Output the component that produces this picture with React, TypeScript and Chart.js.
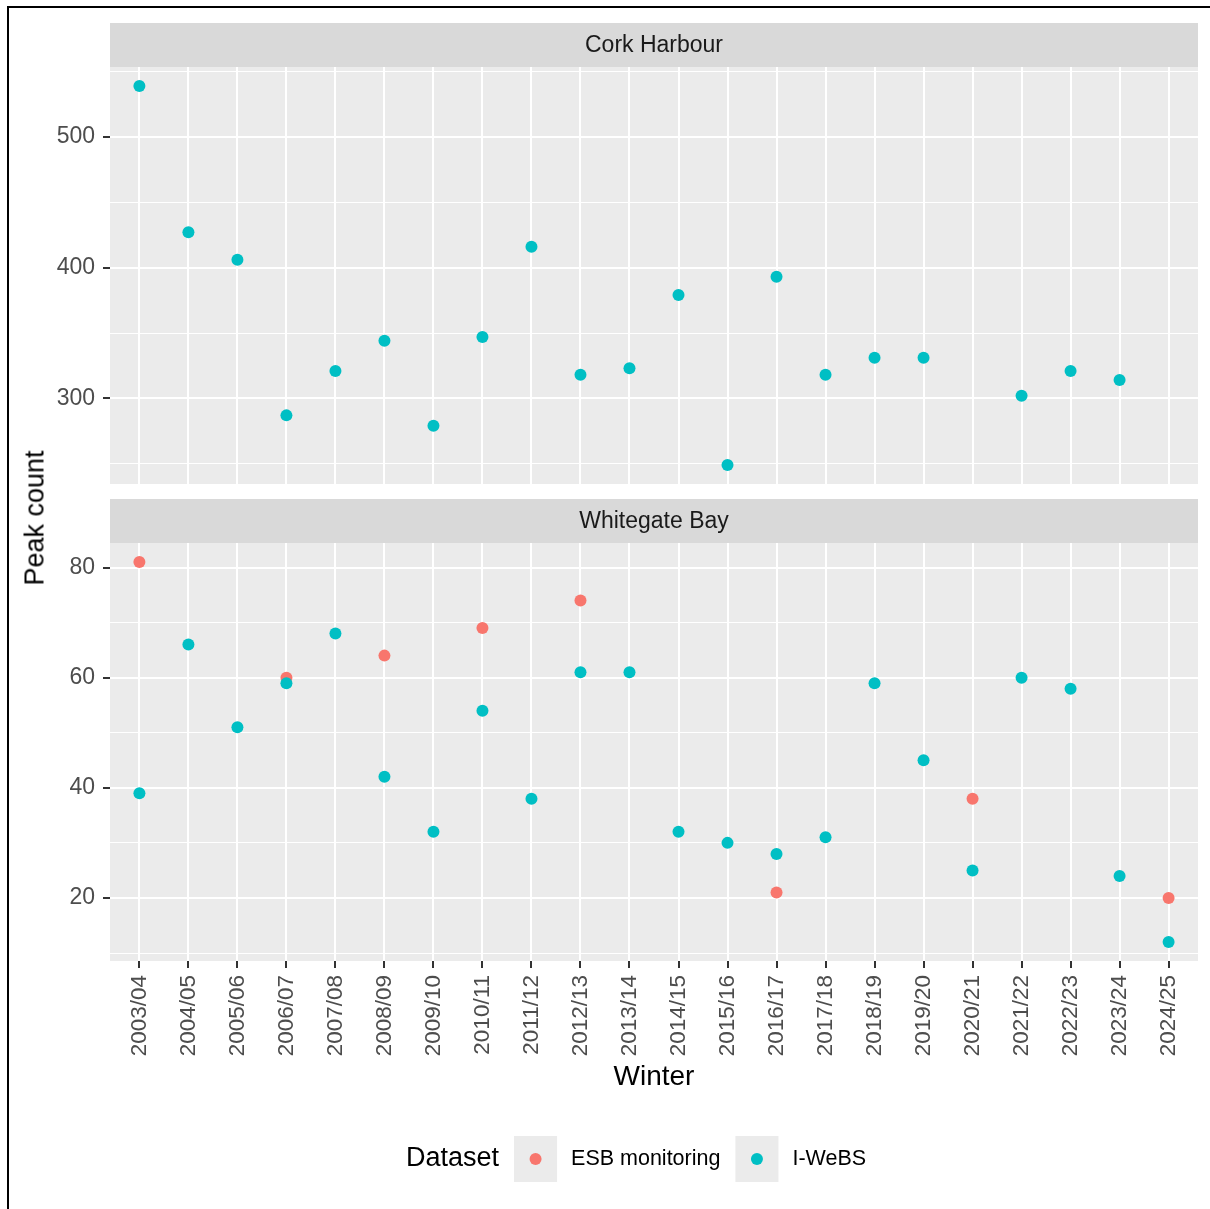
import React, { useEffect, useRef } from "react";
import { Chart, registerables } from "chart.js";

Chart.register(...registerables);

// ---------- data ----------
const winters = [
  "2003/04", "2004/05", "2005/06", "2006/07", "2007/08", "2008/09", "2009/10", "2010/11",
  "2011/12", "2012/13", "2013/14", "2014/15", "2015/16", "2016/17", "2017/18", "2018/19",
  "2019/20", "2020/21", "2021/22", "2022/23", "2023/24", "2024/25",
];
const corkIWeBS: (number | null)[] = [
  539, 427, 406, 287, 321, 344, 279, 347, 416, 318, 323, 379, 249, 393, 318, 331, 331, null, 302, 321, 314, null,
];
const corkESB: (number | null)[] = [
  null, null, null, null, null, null, null, null, null, null, null, null, null, null, null, null, null, null, null, null, null, null,
];
const whitegateESB: (number | null)[] = [
  81, null, null, 60, null, 64, null, 69, null, 74, null, null, null, 21, null, null, null, 38, null, null, null, 20,
];
const whitegateIWeBS: (number | null)[] = [
  39, 66, 51, 59, 68, 42, 32, 54, 38, 61, 61, 32, 30, 28, 31, 59, 45, 25, 60, 58, 24, 12,
];
const corkTicks = [250, 300, 350, 400, 450, 500, 550];
const corkMajor = [300, 400, 500];
const whitegateTicks = [10, 20, 30, 40, 50, 60, 70, 80];
const whitegateMajor = [20, 40, 60, 80];
const panelTitles = ["Cork Harbour", "Whitegate Bay"];
const seriesNames = ["ESB monitoring", "I-WeBS"];
const seriesColors = ["#F8766D", "#00BFC4"];
const yTitle = "Peak count";
const xTitle = "Winter";
const legendTitle = "Dataset";

// ---------- styling ----------
const FONT = '"Liberation Sans", Arial, Helvetica, sans-serif';
const PANEL_BG = "#EBEBEB";
const STRIP_BG = "#D9D9D9";
const STRIP_H = 44;
const TICK_LEN = 7;
const AXIS_W = 110;
const RIGHT_PAD = 12;
const POINT_R = 6;

function toPoints(vals: (number | null)[]) {
  const out: { x: number; y: number }[] = [];
  vals.forEach((v, i) => {
    if (v != null) out.push({ x: i, y: v });
  });
  return out;
}

function expandRange(arrays: (number | null)[][]): [number, number] {
  const vals = arrays.flat().filter((v): v is number => v != null);
  const lo = Math.min(...vals);
  const hi = Math.max(...vals);
  const pad = (hi - lo) * 0.05;
  return [lo - pad, hi + pad];
}

const panelPlugin = (title: string) => ({
  id: "ggPanel",
  beforeDraw(chart: any) {
    const { ctx, chartArea: a } = chart;
    ctx.save();
    ctx.fillStyle = PANEL_BG;
    ctx.fillRect(a.left, a.top, a.right - a.left, a.bottom - a.top);
    ctx.fillStyle = STRIP_BG;
    ctx.fillRect(a.left, a.top - STRIP_H, a.right - a.left, STRIP_H);
    ctx.fillStyle = "#1A1A1A";
    ctx.font = `23px ${FONT}`;
    ctx.textAlign = "center";
    ctx.textBaseline = "middle";
    ctx.fillText(title, (a.left + a.right) / 2, a.top - STRIP_H / 2 + 1);
    ctx.restore();
  },
});

const legendPlugin = {
  id: "ggLegend",
  afterDraw(chart: any) {
    const { ctx } = chart;
    const cy = 669;
    ctx.save();
    ctx.textBaseline = "middle";
    ctx.textAlign = "left";
    ctx.font = `27px ${FONT}`;
    ctx.fillStyle = "#000";
    ctx.fillText(legendTitle, 406, cy);
    let x = 406 + ctx.measureText(legendTitle).width + 15;
    ctx.font = `21.5px ${FONT}`;
    const ordered = [...chart.data.datasets].sort((p: any, q: any) => p.legendIndex - q.legendIndex);
    ordered.forEach((ds: any) => {
      ctx.fillStyle = PANEL_BG;
      ctx.fillRect(x, cy - 23, 43, 46);
      ctx.fillStyle = ds.backgroundColor;
      ctx.beginPath();
      ctx.arc(x + 21.5, cy, POINT_R, 0, Math.PI * 2);
      ctx.fill();
      ctx.fillStyle = "#000";
      ctx.fillText(ds.label, x + 43 + 14, cy);
      x += 43 + 14 + ctx.measureText(ds.label).width + 15;
    });
    ctx.restore();
  },
};

function makeDatasets(esb: (number | null)[], iwebs: (number | null)[]) {
  return [
    {
      label: seriesNames[0],
      legendIndex: 0,
      data: toPoints(esb),
      backgroundColor: seriesColors[0],
      borderColor: seriesColors[0],
      borderWidth: 0,
      pointRadius: POINT_R,
      pointHoverRadius: POINT_R,
      order: 1,
    },
    {
      label: seriesNames[1],
      legendIndex: 1,
      data: toPoints(iwebs),
      backgroundColor: seriesColors[1],
      borderColor: seriesColors[1],
      borderWidth: 0,
      pointRadius: POINT_R,
      pointHoverRadius: POINT_R,
      order: 0,
    },
  ];
}

function yScale(range: [number, number], ticks: number[], major: number[]) {
  return {
    type: "linear",
    min: range[0],
    max: range[1],
    bounds: "data",
    afterBuildTicks: (scale: any) => {
      scale.ticks = ticks.filter((v) => v >= range[0] && v <= range[1]).map((v) => ({ value: v }));
    },
    afterFit: (scale: any) => {
      scale.width = AXIS_W;
      scale.paddingTop = 0;
      scale.paddingBottom = 0;
    },
    border: { display: false },
    grid: {
      color: "#FFFFFF",
      lineWidth: (c: any) => (c.tick && major.includes(c.tick.value) ? 2 : 1),
      drawTicks: true,
      tickLength: TICK_LEN,
      tickWidth: 2,
      tickColor: (c: any) => (c.tick && major.includes(c.tick.value) ? "#333333" : "rgba(0,0,0,0)"),
    },
    ticks: {
      padding: 8,
      color: "#4D4D4D",
      font: { family: FONT, size: 23 },
      callback: (v: any) => (major.includes(v) ? String(v) : ""),
    },
  };
}

function xScale(showLabels: boolean, height: number) {
  return {
    type: "linear",
    min: -0.6,
    max: winters.length - 1 + 0.6,
    bounds: "data",
    afterBuildTicks: (scale: any) => {
      scale.ticks = winters.map((_, i) => ({ value: i }));
    },
    afterFit: (scale: any) => {
      scale.height = height;
      scale.paddingLeft = 0;
      scale.paddingRight = 0;
    },
    border: { display: false },
    grid: {
      color: "#FFFFFF",
      lineWidth: 2,
      drawTicks: showLabels,
      tickLength: TICK_LEN,
      tickWidth: 2,
      tickColor: "#333333",
    },
    ticks: {
      display: showLabels,
      autoSkip: false,
      minRotation: 90,
      maxRotation: 90,
      padding: 7,
      color: "#4D4D4D",
      font: { family: FONT, size: 22.5 },
      callback: (v: any) => winters[v] ?? "",
    },
    title: {
      display: showLabels,
      text: xTitle,
      color: "#000000",
      font: { family: FONT, size: 28 },
      padding: { top: 0, bottom: 0 },
    },
  };
}

export default function App() {
  const refA = useRef<HTMLCanvasElement>(null);
  const refB = useRef<HTMLCanvasElement>(null);

  useEffect(() => {
    const common = {
      responsive: false,
      animation: false,
      events: [],
      plugins: { legend: { display: false }, tooltip: { enabled: false } },
    };
    const chartA = new Chart(refA.current as HTMLCanvasElement, {
      type: "scatter",
      data: { datasets: makeDatasets(corkESB, corkIWeBS) as any },
      options: {
        ...common,
        layout: { padding: { left: 0, right: RIGHT_PAD, top: 67, bottom: 6 } },
        scales: {
          x: xScale(false, 0) as any,
          y: yScale(expandRange([corkIWeBS, corkESB]), corkTicks, corkMajor) as any,
        },
      } as any,
      plugins: [panelPlugin(panelTitles[0])],
    });
    const chartB = new Chart(refB.current as HTMLCanvasElement, {
      type: "scatter",
      data: { datasets: makeDatasets(whitegateESB, whitegateIWeBS) as any },
      options: {
        ...common,
        layout: { padding: { left: 0, right: RIGHT_PAD, top: 53, bottom: 115 } },
        scales: {
          x: xScale(true, 133) as any,
          y: yScale(expandRange([whitegateIWeBS, whitegateESB]), whitegateTicks, whitegateMajor) as any,
        },
      } as any,
      plugins: [panelPlugin(panelTitles[1]), legendPlugin],
    });
    return () => {
      chartA.destroy();
      chartB.destroy();
    };
  }, []);

  return (
    <div
      style={{
        position: "absolute",
        left: 0,
        top: 0,
        width: 1210,
        height: 1209,
        background: "#FFFFFF",
        overflow: "hidden",
      }}
    >
      <div
        style={{
          position: "absolute",
          left: 7,
          top: 6,
          right: 0,
          bottom: 0,
          borderTop: "2px solid #000",
          borderLeft: "2px solid #000",
        }}
      />
      <canvas ref={refA} width={1210} height={490} style={{ position: "absolute", left: 0, top: 0 }} />
      <canvas ref={refB} width={1210} height={719} style={{ position: "absolute", left: 0, top: 490 }} />
      <div
        style={{
          position: "absolute",
          left: 35,
          top: 518,
          transform: "translate(-50%, -50%) rotate(-90deg)",
          font: `27px ${FONT}`,
          lineHeight: 1,
          whiteSpace: "nowrap",
          color: "#000",
        }}
      >
        {yTitle}
      </div>
    </div>
  );
}
